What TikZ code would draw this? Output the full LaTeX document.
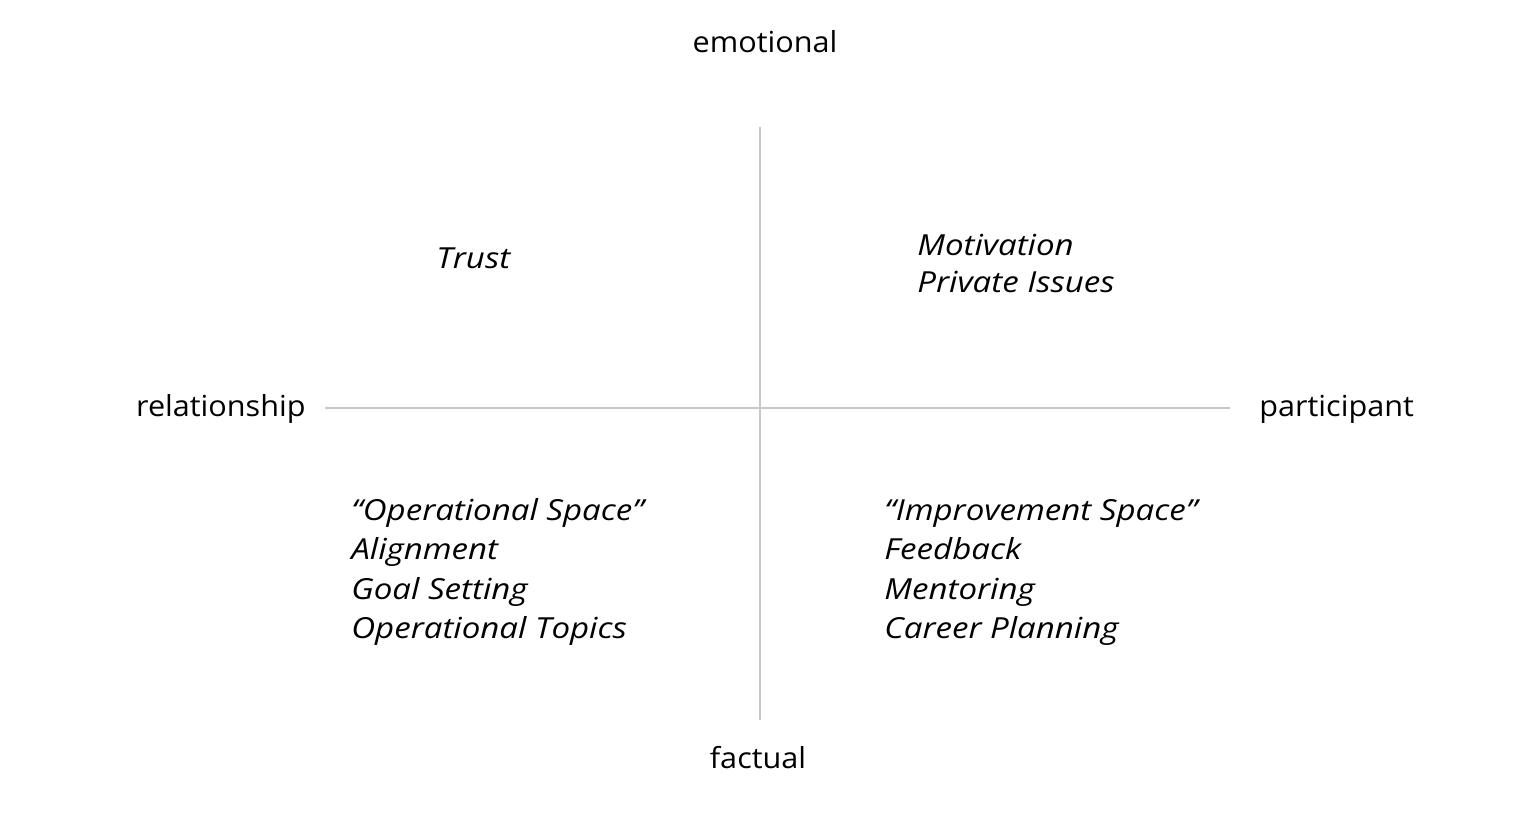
\documentclass[tikz,border=0pt]{standalone}
\usepackage{fontspec}
\setmainfont{Open Sans}
\begin{document}
\begin{tikzpicture}[x=0.5pt,y=-0.5pt,
  axis/.style={draw=black!22,line width=1.2pt},
  pole/.style={font=\fontsize{14.5}{18}\selectfont\addfontfeature{FakeStretch=1.055},inner sep=0pt},
  topic/.style={font=\fontsize{14.5}{20}\selectfont\itshape\addfontfeature{FakeStretch=1.14},anchor=base west,inner sep=0pt}]
\useasboundingbox (0,0) rectangle (1530,830);
\coordinate (top) at (760,127);
\coordinate (bottom) at (760,720);
\coordinate (left) at (325,408);
\coordinate (right) at (1230,408);
\draw[axis] (top) -- (bottom);
\draw[axis] (left) -- (right);
\node[pole,anchor=base] (emo) at (765,52) {emotional};
\node[pole,anchor=base] (fac) at (758,768) {factual};
\node[pole,anchor=base east] (rel) at (306,416) {relationship};
\node[pole,anchor=base west] (par) at (1259,416) {participant};
\node[topic] (trust) at (436,268) {Trust};
\node[topic] (moti) at (917,255) {Motivation};
\node[topic] (priv) at (917,292) {Private Issues};
\foreach \n/\t [count=\i from 0] in {ops/“Operational Space”,ali/Alignment,goal/Goal Setting,opt/Operational Topics} {
  \node[topic] (\n) at (351,520+\i*39.5) {\t}; }
\foreach \n/\t [count=\i from 0] in {imp/“Improvement Space”,feed/Feedback,ment/Mentoring,car/Career Planning} {
  \node[topic] (\n) at (884,520+\i*39.5) {\t}; }
\end{tikzpicture}
\end{document}
